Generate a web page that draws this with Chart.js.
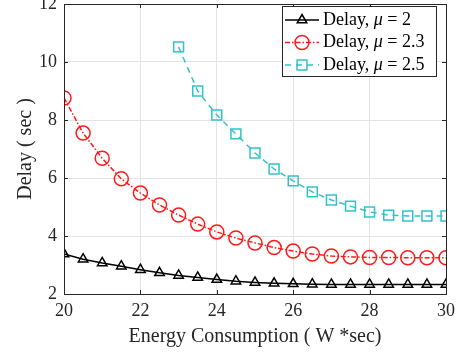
<!DOCTYPE html>
<html>
<head>
<meta charset="UTF-8">
<title>Delay vs Energy</title>
<script src="https://cdn.jsdelivr.net/npm/chart.js@4.4.1/dist/chart.umd.min.js"></script>
<style>
  body { margin: 0; background: #fff; }
  .chartBox { width: 458px; height: 353px; }
</style>
</head>
<body>
<div class="chartBox">
  <canvas id="myChart"></canvas>
</div>
<script>
const energy = [20, 20.5, 21, 21.5, 22, 22.5, 23, 23.5, 24, 24.5, 25, 25.5, 26, 26.5, 27, 27.5, 28, 28.5, 29, 29.5, 30];
const delayMu2 = [3.38, 3.2, 3.07, 2.96, 2.84, 2.73, 2.64, 2.57, 2.5, 2.44, 2.4, 2.37, 2.35, 2.34, 2.33, 2.33, 2.33, 2.33, 2.33, 2.33, 2.33];
const delayMu23 = [8.76, 7.55, 6.68, 5.97, 5.48, 5.07, 4.72, 4.41, 4.14, 3.93, 3.76, 3.6, 3.48, 3.38, 3.31, 3.28, 3.26, 3.26, 3.25, 3.25, 3.25];
const energyMu25 = [23, 23.5, 24, 24.5, 25, 25.5, 26, 26.5, 27, 27.5, 28, 28.5, 29, 29.5, 30];
const delayMu25 = [10.52, 9.0, 8.17, 7.52, 6.86, 6.31, 5.9, 5.52, 5.24, 5.03, 4.83, 4.72, 4.69, 4.69, 4.69];
const muLabels = ['2', '2.3', '2.5'];
const xTicks = [20, 22, 24, 26, 28, 30];
const yTicks = [2, 4, 6, 8, 10, 12];

const serif = '"Liberation Serif", "Times New Roman", serif';

const pts = (xs, ys) => xs.map((x, i) => ({x: x, y: ys[i]}));

// MATLAB style box with inward ticks, plus the legend
const boxPlugin = {
  id: 'box',
  afterDraw(chart) {
    const {ctx, chartArea: a, scales} = chart;
    ctx.save();
    ctx.strokeStyle = '#262626';
    ctx.lineWidth = 1;
    ctx.strokeRect(a.left + 0.5, a.top + 0.5, a.right - a.left, a.bottom - a.top);
    const len = 4;
    ctx.beginPath();
    xTicks.forEach(v => {
      const x = Math.round(scales.x.getPixelForValue(v)) + 0.5;
      ctx.moveTo(x, a.bottom); ctx.lineTo(x, a.bottom - len);
      ctx.moveTo(x, a.top); ctx.lineTo(x, a.top + len);
    });
    yTicks.forEach(v => {
      const y = Math.round(scales.y.getPixelForValue(v)) + 0.5;
      ctx.moveTo(a.left, y); ctx.lineTo(a.left + len, y);
      ctx.moveTo(a.right, y); ctx.lineTo(a.right - len, y);
    });
    ctx.stroke();

    // legend
    const lx = 282, ly = 6, lw = 154, lh = 70;
    ctx.fillStyle = '#fff';
    ctx.fillRect(lx, ly, lw, lh);
    ctx.strokeStyle = '#262626';
    ctx.strokeRect(lx + 0.5, ly + 0.5, lw, lh);
    chart.data.datasets.forEach((ds, i) => {
      const y = ly + 14 + i * 22.5;
      ctx.save();
      ctx.strokeStyle = ds.borderColor;
      ctx.fillStyle = 'rgba(0,0,0,0)';
      ctx.lineWidth = ds.borderWidth;
      ctx.setLineDash(ds.borderDash || []);
      ctx.beginPath();
      ctx.moveTo(lx + 3, y); ctx.lineTo(lx + 37, y);
      ctx.stroke();
      ctx.setLineDash([]);
      ctx.lineWidth = ds.pointBorderWidth;
      Chart.helpers.drawPoint(ctx, {
        pointStyle: ds.pointStyle, radius: ds.pointRadius,
        borderWidth: ds.pointBorderWidth, rotation: 0
      }, lx + 20, y);
      ctx.restore();
      ctx.fillStyle = '#000';
      ctx.textBaseline = 'middle';
      ctx.font = '18px ' + serif;
      let tx = lx + 41;
      ctx.fillText('Delay, ', tx, y);
      tx += ctx.measureText('Delay, ').width;
      ctx.font = 'italic 18px ' + serif;
      ctx.fillText('\u03bc', tx, y);
      tx += ctx.measureText('\u03bc').width;
      ctx.font = '18px ' + serif;
      ctx.fillText(' = ' + muLabels[i], tx, y);
    });
    ctx.restore();
  }
};

const ctx = document.getElementById('myChart').getContext('2d');
new Chart(ctx, {
  type: 'line',
  data: {
    datasets: [{
      label: 'Delay, \u03bc = 2',
      data: pts(energy, delayMu2),
      borderColor: '#000',
      borderWidth: 1.5,
      pointStyle: 'triangle',
      pointRadius: 5.5,
      pointBorderWidth: 1.5,
      pointBackgroundColor: 'rgba(0,0,0,0)'
    }, {
      label: 'Delay, \u03bc = 2.3',
      data: pts(energy, delayMu23),
      borderColor: '#ff1a1a',
      borderWidth: 1.5,
      borderDash: [5, 2, 1.5, 2],
      pointStyle: 'circle',
      pointRadius: 7,
      pointBorderWidth: 1.5,
      pointBackgroundColor: 'rgba(0,0,0,0)'
    }, {
      label: 'Delay, \u03bc = 2.5',
      data: pts(energyMu25, delayMu25),
      borderColor: '#33c1c9',
      borderWidth: 1.5,
      borderDash: [6, 5],
      pointStyle: 'rect',
      pointRadius: 7,
      pointBorderWidth: 1.5,
      pointBackgroundColor: 'rgba(0,0,0,0)'
    }]
  },
  options: {
    responsive: true,
    maintainAspectRatio: false,
    animation: false,
    layout: { autoPadding: false, padding: { left: 0, top: 4, right: 12, bottom: 0 } },
    plugins: { legend: { display: false }, tooltip: { enabled: false } },
    scales: {
      x: {
        type: 'linear',
        min: 20, max: 30,
        afterFit: s => { s.height = 59; s.paddingLeft = 0; s.paddingRight = 0; },
        afterBuildTicks: s => { s.ticks = xTicks.map(v => ({value: v})); },
        grid: { color: '#e3e3e3', drawTicks: false },
        border: { display: false },
        ticks: { color: '#262626', padding: 6, maxRotation: 0, font: { family: serif, size: 18 } },
        title: { display: true, text: 'Energy Consumption ( W *sec)', color: '#262626', padding: {top: 0, bottom: 4}, font: { family: serif, size: 20 } }
      },
      y: {
        min: 2, max: 12,
        afterFit: s => { s.width = 64; s.paddingTop = 0; s.paddingBottom = 0; },
        afterBuildTicks: s => { s.ticks = yTicks.map(v => ({value: v})); },
        grid: { color: '#e3e3e3', drawTicks: false },
        border: { display: false },
        ticks: { color: '#262626', padding: 7, font: { family: serif, size: 18 } },
        title: { display: true, text: 'Delay ( sec )', color: '#262626', padding: {top: 14, bottom: 0}, font: { family: serif, size: 20 } }
      }
    }
  },
  plugins: [boxPlugin]
});
</script>
</body>
</html>
